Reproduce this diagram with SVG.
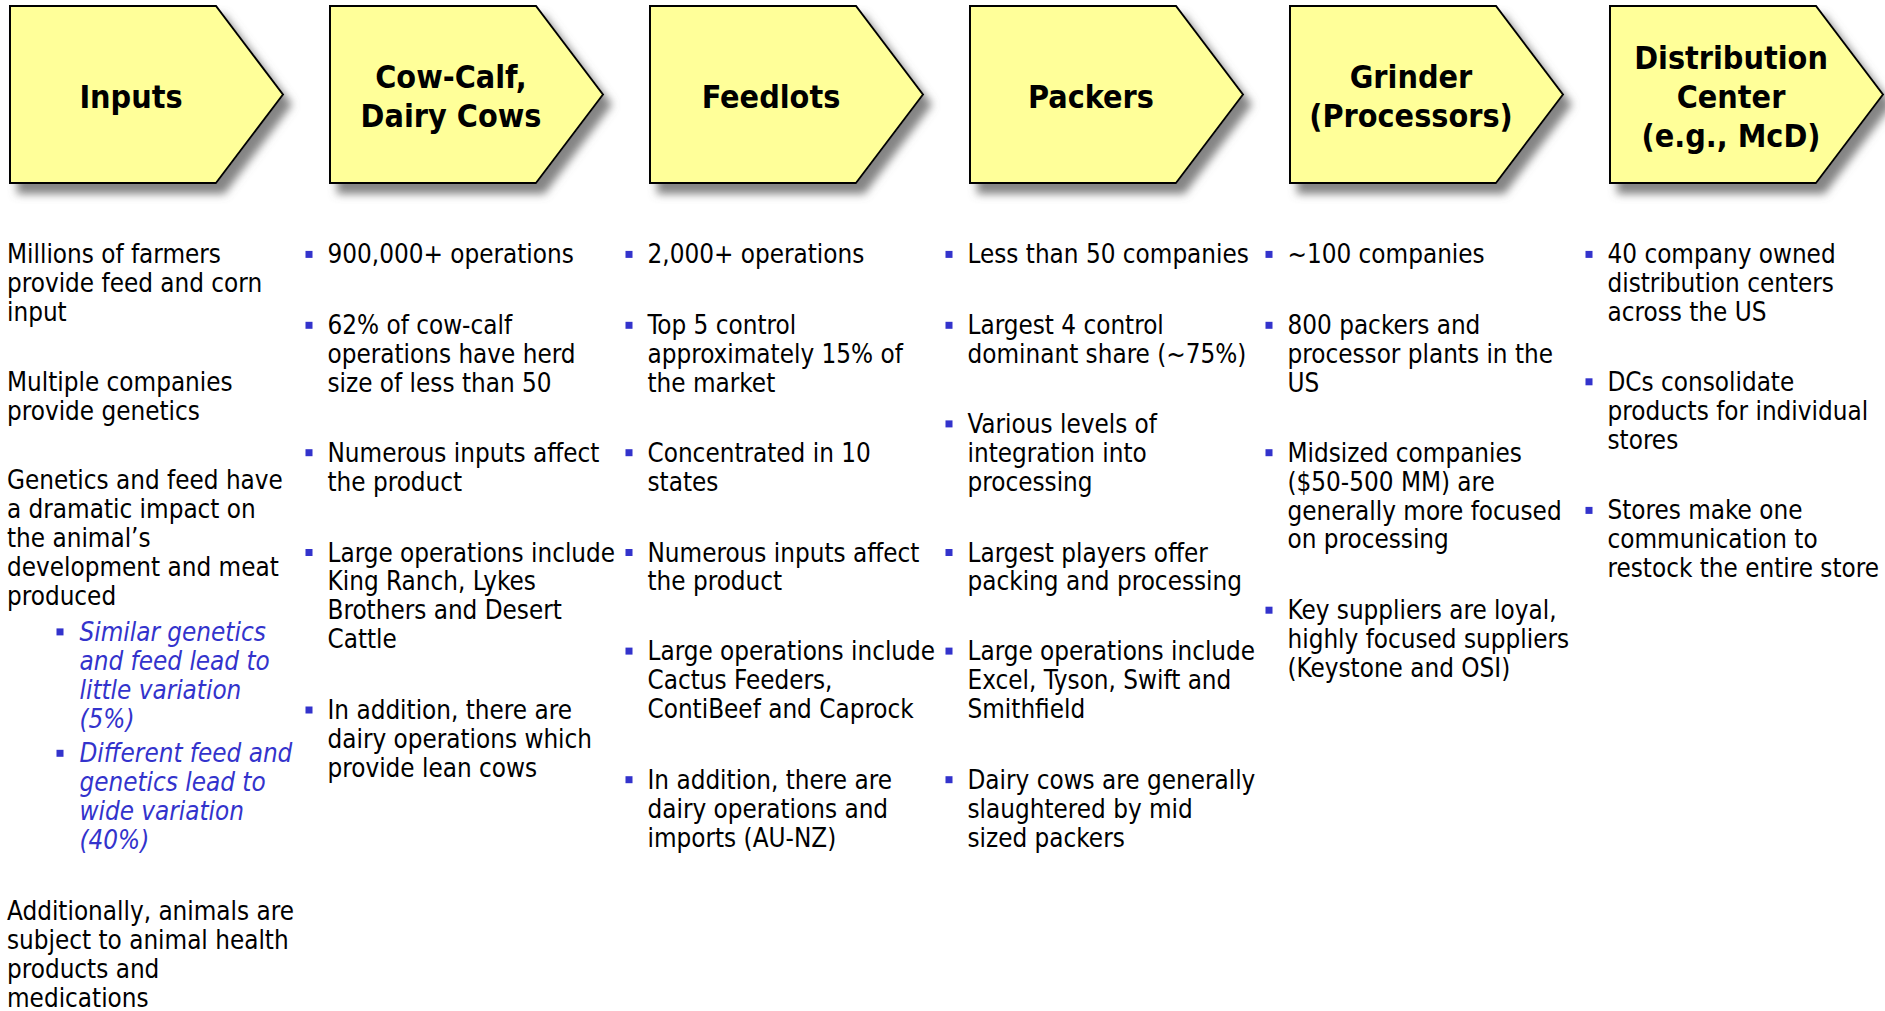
<svg xmlns="http://www.w3.org/2000/svg" xmlns:xlink="http://www.w3.org/1999/xlink" width="1885" height="1011" viewBox="0 0 1885 1011">
  <style>
    text { font-family: "DejaVu Sans Condensed", "DejaVu Sans", sans-serif; font-stretch: condensed; }
    .hdr { font-weight: bold; font-size: 32px; text-anchor: middle; fill: #000; }
    .body { font-size: 25.8px; fill: #000; }
    .sub { font-size: 25.8px; font-style: italic; fill: #3333CC; }
    .chev { fill: #FFFF99; stroke: #000; stroke-width: 2; stroke-linejoin: miter; }
    .blt { fill: #3333CC; }
  </style>
  <defs>
    <filter id="shadow" x="-10%" y="-10%" width="130%" height="135%">
      <feGaussianBlur in="SourceAlpha" stdDeviation="4" result="b"/>
      <feOffset in="b" dx="8" dy="10" result="o"/>
      <feFlood flood-color="#777777" flood-opacity="0.9"/>
      <feComposite in2="o" operator="in" result="s"/>
      <feMerge>
        <feMergeNode in="s"/>
        <feMergeNode in="SourceGraphic"/>
      </feMerge>
    </filter>
    <path id="chev" d="M0,0 H206 L273,88.5 L206,177 H0 Z"/>
    <rect id="sq" x="-3.5" y="-3.5" width="7" height="7"/>
  </defs>

  <rect width="1885" height="1011" fill="#fff"/>

  <!-- no connectors: the stages are linked by their chevron shapes -->
  <g id="connectors"/>

  <!-- Stage 1: Inputs -->
  <g id="node-inputs">
    <use href="#chev" class="chev" filter="url(#shadow)" transform="translate(10,6)"/>
    <text class="hdr" x="131" y="108">Inputs</text>
    <text class="body" x="7" y="263.4"><tspan x="7">Millions of farmers</tspan><tspan x="7" dy="28.9">provide feed and corn</tspan><tspan x="7" dy="28.9">input</tspan></text>
    <text class="body" x="7" y="390.8"><tspan x="7">Multiple companies</tspan><tspan x="7" dy="28.9">provide genetics</tspan></text>
    <text class="body" x="7" y="489.4"><tspan x="7">Genetics and feed have</tspan><tspan x="7" dy="28.9">a dramatic impact on</tspan><tspan x="7" dy="28.9">the animal’s</tspan><tspan x="7" dy="28.9">development and meat</tspan><tspan x="7" dy="28.9">produced</tspan></text>
    <use href="#sq" class="blt" x="60" y="631.9"/>
    <text class="sub" x="79.5" y="640.9"><tspan x="79.5">Similar genetics</tspan><tspan x="79.5" dy="28.9">and feed lead to</tspan><tspan x="79.5" dy="28.9">little variation</tspan><tspan x="79.5" dy="28.9">(5%)</tspan></text>
    <use href="#sq" class="blt" x="60" y="753.3"/>
    <text class="sub" x="79.5" y="762.3"><tspan x="79.5">Different feed and</tspan><tspan x="79.5" dy="28.9">genetics lead to</tspan><tspan x="79.5" dy="28.9">wide variation</tspan><tspan x="79.5" dy="28.9">(40%)</tspan></text>
    <text class="body" x="7" y="919.8"><tspan x="7">Additionally, animals are</tspan><tspan x="7" dy="28.9">subject to animal health</tspan><tspan x="7" dy="28.9">products and</tspan><tspan x="7" dy="28.9">medications</tspan></text>
  </g>

  <!-- Stage 2: Cow-Calf, Dairy Cows -->
  <g id="node-cowcalf">
    <use href="#chev" class="chev" filter="url(#shadow)" transform="translate(330,6)"/>
    <text class="hdr" x="451" y="87.8"><tspan x="451">Cow-Calf,</tspan><tspan x="451" dy="39.6">Dairy Cows</tspan></text>
    <use href="#sq" class="blt" x="309" y="254.4"/>
    <text class="body" x="327.5" y="263.4">900,000+ operations</text>
    <use href="#sq" class="blt" x="309" y="325.3"/>
    <text class="body" x="327.5" y="334.3"><tspan x="327.5">62% of cow-calf</tspan><tspan x="327.5" dy="28.9">operations have herd</tspan><tspan x="327.5" dy="28.9">size of less than 50</tspan></text>
    <use href="#sq" class="blt" x="309" y="452.7"/>
    <text class="body" x="327.5" y="461.7"><tspan x="327.5">Numerous inputs affect</tspan><tspan x="327.5" dy="28.9">the product</tspan></text>
    <use href="#sq" class="blt" x="309" y="552.5"/>
    <text class="body" x="327.5" y="561.5"><tspan x="327.5">Large operations include</tspan><tspan x="327.5" dy="28.9">King Ranch, Lykes</tspan><tspan x="327.5" dy="28.9">Brothers and Desert</tspan><tspan x="327.5" dy="28.9">Cattle</tspan></text>
    <use href="#sq" class="blt" x="309" y="710"/>
    <text class="body" x="327.5" y="719"><tspan x="327.5">In addition, there are</tspan><tspan x="327.5" dy="28.9">dairy operations which</tspan><tspan x="327.5" dy="28.9">provide lean cows</tspan></text>
  </g>

  <!-- Stage 3: Feedlots -->
  <g id="node-feedlots">
    <use href="#chev" class="chev" filter="url(#shadow)" transform="translate(650,6)"/>
    <text class="hdr" x="771" y="108">Feedlots</text>
    <use href="#sq" class="blt" x="629" y="254.4"/>
    <text class="body" x="647.5" y="263.4">2,000+ operations</text>
    <use href="#sq" class="blt" x="629" y="325.3"/>
    <text class="body" x="647.5" y="334.3"><tspan x="647.5">Top 5 control</tspan><tspan x="647.5" dy="28.9">approximately 15% of</tspan><tspan x="647.5" dy="28.9">the market</tspan></text>
    <use href="#sq" class="blt" x="629" y="452.7"/>
    <text class="body" x="647.5" y="461.7"><tspan x="647.5">Concentrated in 10</tspan><tspan x="647.5" dy="28.9">states</tspan></text>
    <use href="#sq" class="blt" x="629" y="552.5"/>
    <text class="body" x="647.5" y="561.5"><tspan x="647.5">Numerous inputs affect</tspan><tspan x="647.5" dy="28.9">the product</tspan></text>
    <use href="#sq" class="blt" x="629" y="651.1"/>
    <text class="body" x="647.5" y="660.1"><tspan x="647.5">Large operations include</tspan><tspan x="647.5" dy="28.9">Cactus Feeders,</tspan><tspan x="647.5" dy="28.9">ContiBeef and Caprock</tspan></text>
    <use href="#sq" class="blt" x="629" y="779.7"/>
    <text class="body" x="647.5" y="788.7"><tspan x="647.5">In addition, there are</tspan><tspan x="647.5" dy="28.9">dairy operations and</tspan><tspan x="647.5" dy="28.9">imports (AU-NZ)</tspan></text>
  </g>

  <!-- Stage 4: Packers -->
  <g id="node-packers">
    <use href="#chev" class="chev" filter="url(#shadow)" transform="translate(970,6)"/>
    <text class="hdr" x="1091" y="108">Packers</text>
    <use href="#sq" class="blt" x="949" y="254.4"/>
    <text class="body" x="967.5" y="263.4">Less than 50 companies</text>
    <use href="#sq" class="blt" x="949" y="325.3"/>
    <text class="body" x="967.5" y="334.3"><tspan x="967.5">Largest 4 control</tspan><tspan x="967.5" dy="28.9">dominant share (~75%)</tspan></text>
    <use href="#sq" class="blt" x="949" y="423.9"/>
    <text class="body" x="967.5" y="432.9"><tspan x="967.5">Various levels of</tspan><tspan x="967.5" dy="28.9">integration into</tspan><tspan x="967.5" dy="28.9">processing</tspan></text>
    <use href="#sq" class="blt" x="949" y="552.5"/>
    <text class="body" x="967.5" y="561.5"><tspan x="967.5">Largest players offer</tspan><tspan x="967.5" dy="28.9">packing and processing</tspan></text>
    <use href="#sq" class="blt" x="949" y="651.1"/>
    <text class="body" x="967.5" y="660.1"><tspan x="967.5">Large operations include</tspan><tspan x="967.5" dy="28.9">Excel, Tyson, Swift and</tspan><tspan x="967.5" dy="28.9">Smithfield</tspan></text>
    <use href="#sq" class="blt" x="949" y="779.7"/>
    <text class="body" x="967.5" y="788.7"><tspan x="967.5">Dairy cows are generally</tspan><tspan x="967.5" dy="28.9">slaughtered by mid</tspan><tspan x="967.5" dy="28.9">sized packers</tspan></text>
  </g>

  <!-- Stage 5: Grinder (Processors) -->
  <g id="node-grinder">
    <use href="#chev" class="chev" filter="url(#shadow)" transform="translate(1290,6)"/>
    <text class="hdr" x="1411" y="87.8"><tspan x="1411">Grinder</tspan><tspan x="1411" dy="39.6">(Processors)</tspan></text>
    <use href="#sq" class="blt" x="1269" y="254.4"/>
    <text class="body" x="1287.5" y="263.4">~100 companies</text>
    <use href="#sq" class="blt" x="1269" y="325.3"/>
    <text class="body" x="1287.5" y="334.3"><tspan x="1287.5">800 packers and</tspan><tspan x="1287.5" dy="28.9">processor plants in the</tspan><tspan x="1287.5" dy="28.9">US</tspan></text>
    <use href="#sq" class="blt" x="1269" y="452.7"/>
    <text class="body" x="1287.5" y="461.7"><tspan x="1287.5">Midsized companies</tspan><tspan x="1287.5" dy="28.9">($50-500 MM) are</tspan><tspan x="1287.5" dy="28.9">generally more focused</tspan><tspan x="1287.5" dy="28.9">on processing</tspan></text>
    <use href="#sq" class="blt" x="1269" y="610.2"/>
    <text class="body" x="1287.5" y="619.2"><tspan x="1287.5">Key suppliers are loyal,</tspan><tspan x="1287.5" dy="28.9">highly focused suppliers</tspan><tspan x="1287.5" dy="28.9">(Keystone and OSI)</tspan></text>
  </g>

  <!-- Stage 6: Distribution Center -->
  <g id="node-distribution">
    <use href="#chev" class="chev" filter="url(#shadow)" transform="translate(1610,6)"/>
    <text class="hdr" x="1731" y="68.5"><tspan x="1731">Distribution</tspan><tspan x="1731" dy="39.3">Center</tspan><tspan x="1731" dy="39.3">(e.g., McD)</tspan></text>
    <use href="#sq" class="blt" x="1589" y="254.4"/>
    <text class="body" x="1607.5" y="263.4"><tspan x="1607.5">40 company owned</tspan><tspan x="1607.5" dy="28.9">distribution centers</tspan><tspan x="1607.5" dy="28.9">across the US</tspan></text>
    <use href="#sq" class="blt" x="1589" y="381.8"/>
    <text class="body" x="1607.5" y="390.8"><tspan x="1607.5">DCs consolidate</tspan><tspan x="1607.5" dy="28.9">products for individual</tspan><tspan x="1607.5" dy="28.9">stores</tspan></text>
    <use href="#sq" class="blt" x="1589" y="510.4"/>
    <text class="body" x="1607.5" y="519.4"><tspan x="1607.5">Stores make one</tspan><tspan x="1607.5" dy="28.9">communication to</tspan><tspan x="1607.5" dy="28.9">restock the entire store</tspan></text>
  </g>
</svg>
